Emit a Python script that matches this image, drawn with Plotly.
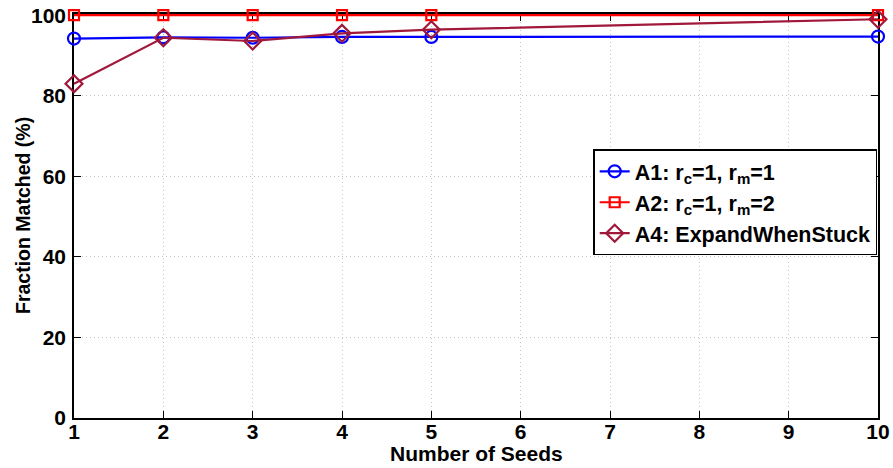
import plotly.graph_objects as go

# Number of seeds used in each run
seeds = [1, 2, 3, 4, 5, 10]

# Fraction matched (%) for each algorithm
a1_values = [94.2, 94.5, 94.4, 94.6, 94.6, 94.7]
a2_values = [100.0, 100.0, 100.0, 100.0, 100.0, 100.0]
a4_values = [83.0, 94.4, 93.6, 95.5, 96.4, 99.0]

x_ticks = [1, 2, 3, 4, 5, 6, 7, 8, 9, 10]
y_ticks = [0, 20, 40, 60, 80, 100]

FONT = "Liberation Sans, Arial, Helvetica, sans-serif"

fig = go.Figure()

fig.add_trace(go.Scatter(
    x=seeds, y=a1_values, mode="lines+markers",
    name="A1: r<sub>c</sub>=1, r<sub>m</sub>=1",
    line=dict(color="#0000ff", width=2.2),
    marker=dict(symbol="circle-open", size=12, color="#0000ff", line=dict(width=2.2)),
    cliponaxis=False,
))
fig.add_trace(go.Scatter(
    x=seeds, y=a2_values, mode="lines+markers",
    name="A2: r<sub>c</sub>=1, r<sub>m</sub>=2",
    line=dict(color="#ff0000", width=2.2),
    marker=dict(symbol="square-open", size=10, color="#ff0000", line=dict(width=2.2)),
    cliponaxis=False,
))
fig.add_trace(go.Scatter(
    x=seeds, y=a4_values, mode="lines+markers",
    name="A4: ExpandWhenStuck",
    line=dict(color="#a0183a", width=2.2),
    marker=dict(symbol="diamond-open", size=13, color="#a0183a", line=dict(width=2.2)),
    cliponaxis=False,
))

axis_common = dict(
    showline=True, linecolor="black", linewidth=1.5, mirror="allticks",
    ticks="inside", ticklen=7, tickwidth=1.2, tickcolor="black",
    showgrid=True, gridcolor="#c4c4c4", gridwidth=1, griddash="1px,3px",
    zeroline=False, automargin=False, layer="below traces",
    tickfont=dict(family=FONT, size=21, color="black", weight="bold"),
)

fig.update_xaxes(
    range=[1, 10], tickvals=x_ticks, ticktext=[str(v) for v in x_ticks],
    ticklabelstandoff=-6,
    **axis_common,
)
# Small headroom above 100 so the 100% line is not clipped by the frame
fig.update_yaxes(
    range=[0, 100.3], tickvals=y_ticks, ticktext=[str(v) for v in y_ticks],
    ticklabelstandoff=2,
    **axis_common,
)

title_font = dict(family=FONT, size=21, color="black", weight="bold")
# Axis titles placed as annotations for tight spacing
fig.add_annotation(
    text="Number of Seeds", xref="paper", yref="paper",
    x=0.5, y=-0.089, xanchor="center", yanchor="middle",
    showarrow=False, font=title_font,
)
fig.add_annotation(
    text="Fraction Matched (%)", xref="paper", yref="paper",
    x=-0.0634, y=0.5, xanchor="center", yanchor="middle", textangle=-90,
    showarrow=False, font=dict(family=FONT, size=19.5, color="black", weight="bold"),
)

fig.update_layout(
    width=893, height=468,
    margin=dict(l=74, r=15, t=14, b=50),
    plot_bgcolor="white", paper_bgcolor="white",
    font=dict(family=FONT, size=21, color="black", weight="bold"),
    showlegend=True,
    legend=dict(
        x=0.999, xanchor="right", y=0.665, yanchor="top",
        bgcolor="white", bordercolor="black", borderwidth=1.5,
        font=dict(family=FONT, size=21.5, color="black", weight="bold"),
        itemwidth=30, tracegroupgap=0,
    ),
)

fig.write_html("out.html")
